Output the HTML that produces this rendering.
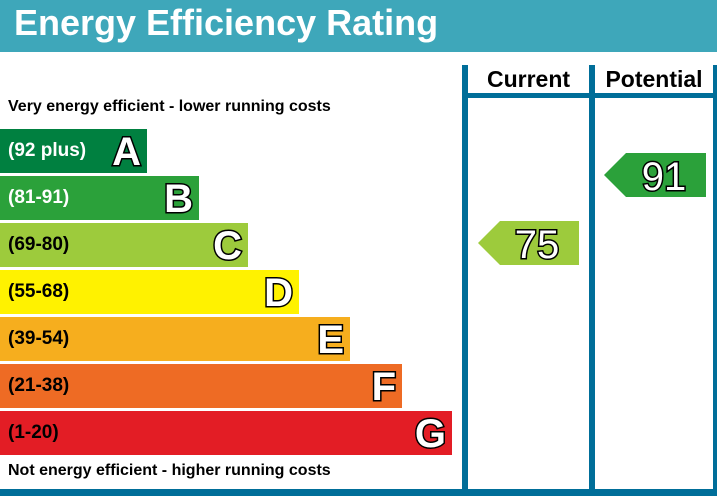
<!DOCTYPE html>
<html><head><style>
body{margin:0;width:717px;height:496px;background:#fff;overflow:hidden;font-family:"Liberation Sans",Arial,sans-serif;position:relative}
div{position:absolute}
.hdr{left:0;top:0;width:717px;height:52px;background:#3ea7ba;color:#fff;font-size:36px;font-weight:bold;line-height:46px;padding-left:14px;box-sizing:border-box}
.bl{background:#006e99}
.bar{left:0;height:44px}
.lab{left:8px;font-weight:bold;font-size:19px;color:#fff;line-height:44px}
.let{font-size:40px;font-weight:bold;color:#fff;-webkit-text-stroke:3px #000;paint-order:stroke fill;line-height:46px;right:6px;top:0}
.col{font-weight:bold;font-size:23px;text-align:center;top:64px;line-height:30px}
.sm{font-weight:bold;font-size:16px;left:8px}
</style></head><body>
<div class="hdr">Energy Efficiency Rating</div>
<div class="bl" style="left:462px;top:65px;width:6px;height:431px"></div>
<div class="bl" style="left:589px;top:65px;width:6px;height:431px"></div>
<div class="bl" style="left:713px;top:65px;width:4px;height:431px"></div>
<div class="bl" style="left:462px;top:93px;width:255px;height:5px"></div>
<div class="bl" style="left:0;top:489px;width:717px;height:7px"></div>
<div class="col" style="left:468px;width:121px">Current</div>
<div class="col" style="left:595px;width:118px">Potential</div>
<div class="sm" style="top:98px">Very energy efficient - lower running costs</div>
<div class="sm" style="top:462px">Not energy efficient - higher running costs</div>

<div class="bar" style="top:129px;width:147px;background:#008040"><div class="lab">(92 plus)</div><div class="let">A</div></div>
<div class="bar" style="top:176px;width:199px;background:#2ba13a"><div class="lab">(81-91)</div><div class="let">B</div></div>
<div class="bar" style="top:223px;width:248px;background:#9dcb3c"><div class="lab" style="color:#000">(69-80)</div><div class="let">C</div></div>
<div class="bar" style="top:270px;width:299px;background:#fff200"><div class="lab" style="color:#000">(55-68)</div><div class="let">D</div></div>
<div class="bar" style="top:317px;width:350px;background:#f6ae1e"><div class="lab" style="color:#000">(39-54)</div><div class="let">E</div></div>
<div class="bar" style="top:364px;width:402px;background:#ee6b24"><div class="lab" style="color:#000">(21-38)</div><div class="let">F</div></div>
<div class="bar" style="top:411px;width:452px;background:#e31d25"><div class="lab" style="color:#000">(1-20)</div><div class="let">G</div></div>

<svg style="position:absolute;left:0;top:0" width="717" height="496">
<polygon points="478,243 500,221 579,221 579,265 500,265" fill="#9dcb3c"/>
<polygon points="604,175 626,153 706,153 706,197 626,197" fill="#2ba13a"/>
<text x="537" y="258" font-family="Liberation Sans,Arial,sans-serif" font-size="40" fill="#fff" stroke="#000" stroke-width="3" paint-order="stroke" text-anchor="middle">75</text>
<text x="664" y="190" font-family="Liberation Sans,Arial,sans-serif" font-size="40" fill="#fff" stroke="#000" stroke-width="3" paint-order="stroke" text-anchor="middle">91</text>
</svg>
</body></html>
